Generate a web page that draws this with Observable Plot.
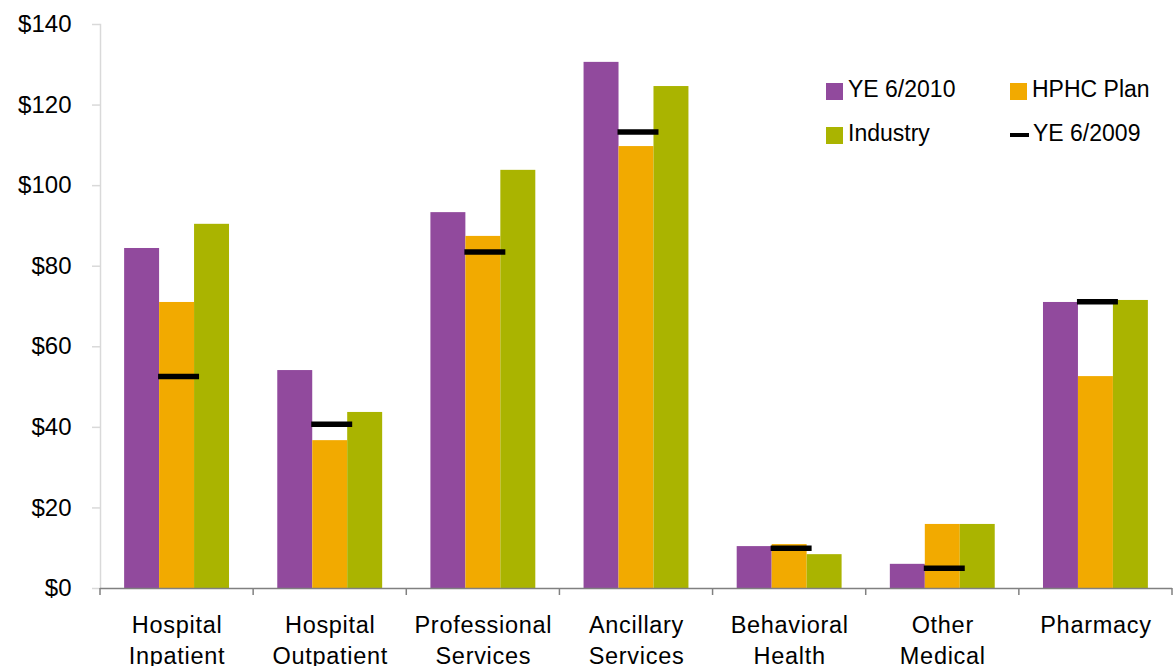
<!DOCTYPE html>
<html>
<head>
<meta charset="utf-8">
<script src="https://cdn.jsdelivr.net/npm/d3@7"></script>
<script src="https://cdn.jsdelivr.net/npm/@observablehq/plot@0.6"></script>
<style>
  body { margin: 0; background: #fff; }
  #chart { position: relative; width: 1176px; height: 666px; font-family: "Liberation Sans", Arial, sans-serif; color: #000; }
  #chart svg { display: block; }
  g[aria-label="fx-axis tick label"] text { letter-spacing: 0.7px; }
  .lg-item { position: absolute; display: flex; align-items: center; font-size: 23px; line-height: 26px; white-space: nowrap; }
  .lg-sw { width: 17px; height: 17px; margin-right: 5px; margin-top: 5px; }
  .lg-dash { width: 19px; height: 4px; background: #000; margin-right: 4px; margin-top: 4px; }
</style>
</head>
<body>
<div id="chart"></div>
<script>
const categories = ["Hospital Inpatient", "Hospital Outpatient", "Professional Services", "Ancillary Services", "Behavioral Health", "Other Medical", "Pharmacy"];
const series = ["YE 6/2010", "HPHC Plan", "Industry"];
const ye2010 = [84.4, 54.1, 93.3, 130.6, 10.4, 6.0, 71.0];
const hphcPlan = [71.0, 36.7, 87.4, 109.7, 10.9, 15.9, 52.6];
const industry = [90.4, 43.7, 103.8, 124.6, 8.4, 15.9, 71.5];
const ye2009 = [52.6, 40.8, 83.5, 113.3, 10.0, 5.0, 71.2];
const seriesColors = ["#914a9d", "#f2aa00", "#aab400"];
const yTicks = [0, 20, 40, 60, 80, 100, 120, 140];
const legendLabels = ["YE 6/2010", "HPHC Plan", "Industry", "YE 6/2009"];

const seriesValues = [ye2010, hphcPlan, industry];
const bars = [];
categories.forEach((c, i) => series.forEach((s, j) => bars.push({category: c, series: s, value: seriesValues[j][i]})));
const prior = categories.map((c, i) => ({category: c, series: "HPHC Plan", value: ye2009[i]}));

const W = 1176, H = 666;
const plot = Plot.plot({
  width: W,
  height: H,
  marginTop: 24,
  marginBottom: 78,
  marginLeft: 100,
  marginRight: 4,
  style: {fontFamily: '"Liberation Sans", Arial, sans-serif', background: "#fff", color: "#000"},
  fx: {domain: categories, padding: 0, axis: null, label: null, round: false},
  x: {domain: series, paddingInner: 0, paddingOuter: 0.69, axis: null, label: null, round: false},
  y: {domain: [0, 140], axis: null, label: null},
  color: {domain: series, range: seriesColors},
  marks: [
    Plot.frame({anchor: "left", facetAnchor: "left", stroke: "#d9d9d9", strokeWidth: 1.5}),
    Plot.axisY({ticks: yTicks, tickFormat: d => "$" + d, tickSize: 8, tickPadding: 21, fontSize: 24, stroke: "#d9d9d9", strokeWidth: 1.5, label: null}),
    Plot.barY(bars, {fx: "category", x: "series", y: "value", fill: "series"}),
    Plot.tickY(prior, {fx: "category", x: "series", y: "value", stroke: "#000", strokeWidth: 5.5, insetLeft: -1, insetRight: -5}),
    Plot.ruleY([0], {stroke: "#808080", strokeWidth: 1.5}),
    Plot.axisFx({anchor: "bottom", tickSize: 0, tickPadding: 23, fontSize: 23.5, lineHeight: 1.3, label: null,
      tickFormat: d => d.replace(" ", "\n")})
  ]
});

document.getElementById("chart").appendChild(plot);

// Category separator ticks (Excel-style) drawn from Plot's fx and y scales
const fxs = plot.scale("fx");
const ys = plot.scale("y");
const band = d3.scaleBand().domain(fxs.domain).range(fxs.range).paddingInner(0).paddingOuter(0);
const y0 = ys.apply ? ys.apply(0) : ys.range[0];
const edges = fxs.domain.map(d => band(d)).concat([band.range()[1]]);
d3.select(plot).append("g").attr("aria-label", "category-separators")
  .selectAll("line").data(edges).join("line")
  .attr("x1", d => d).attr("x2", d => d)
  .attr("y1", y0).attr("y2", y0 + 7)
  .attr("stroke", "#808080").attr("stroke-width", 1.5);

// Legend (inside plot area, top right)
const chart = document.getElementById("chart");
const legendPos = [[826, 76], [1010, 76], [826, 120], [1010, 120]];
legendLabels.forEach((lab, i) => {
  const item = document.createElement("div");
  item.className = "lg-item";
  item.style.left = legendPos[i][0] + "px";
  item.style.top = legendPos[i][1] + "px";
  const sw = document.createElement("div");
  if (i < 3) { sw.className = "lg-sw"; sw.style.background = seriesColors[i]; }
  else { sw.className = "lg-dash"; }
  item.appendChild(sw);
  const t = document.createElement("span");
  t.textContent = lab;
  item.appendChild(t);
  chart.appendChild(item);
});
</script>
</body>
</html>
